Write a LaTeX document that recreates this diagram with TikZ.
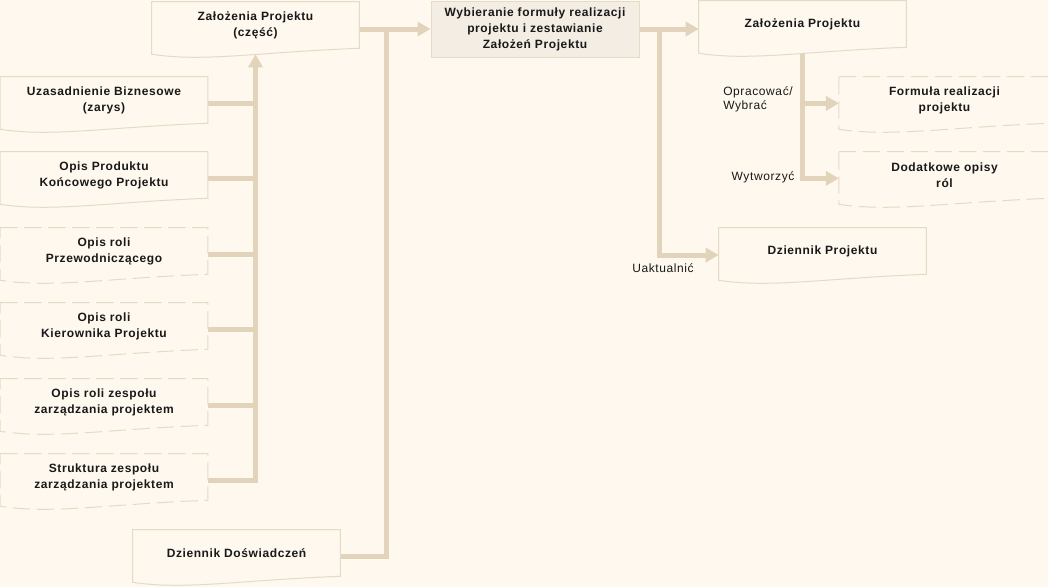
\documentclass[tikz,border=0pt]{standalone}
\usepackage{fontspec}
\setmainfont[LetterSpace=5]{Liberation Sans}
\usetikzlibrary{arrows.meta,calc}
\definecolor{pgbg}{RGB}{254,248,238}
\definecolor{pgedge}{RGB}{230,218,196}
\definecolor{pglink}{RGB}{226,212,186}
\definecolor{pgfill}{RGB}{243,237,227}
\definecolor{pgtext}{RGB}{25,25,25}
\tikzset{
  doc/.style={minimum width=155.25pt, minimum height=34.5pt, inner sep=0pt, align=center,
    font=\fontsize{9}{12}\selectfont\bfseries, text=pgtext},
  docline/.style={draw=pgedge, line width=0.75pt},
  docdash/.style={docline, dash pattern=on 13pt off 5pt},
  link/.style={draw=pglink, line width=3.75pt},
  tip/.style={-{Triangle[length=9.75pt,width=10.5pt]}},
  lbl/.style={font=\fontsize{9}{10.5}\selectfont, text=pgtext, inner sep=0pt},
}
\begin{document}
\begin{tikzpicture}[x=0.75pt,y=-0.75pt]
\fill[pgbg] (0,0) rectangle (1048,587);
\useasboundingbox (0,0) rectangle (1048,587);
% Left: inputs
\node[doc] (ub) at (104,100) {Uzasadnienie Biznesowe\\(zarys)};
\node[doc] (opk) at (104,175) {Opis Produktu\\Końcowego Projektu};
\node[doc] (przew) at (104,251) {Opis roli\\Przewodniczącego};
\node[doc] (kier) at (104,326) {Opis roli\\Kierownika Projektu};
\node[doc] (zesp) at (104,402) {Opis roli zespołu\\zarządzania projektem};
\node[doc] (struk) at (104,477) {Struktura zespołu\\zarządzania projektem};
\node[doc] (z1) at (255.5,25) {Założenia Projektu\\(część)};
\node[doc] (dd) at (236.5,553) {Dziennik Doświadczeń};
% Middle: process
\node[doc, minimum width=156pt, minimum height=42pt, fill=pgfill, draw=pgedge, line width=0.75pt] (wyb) at (535,29)
  {Wybieranie formuły realizacji\\projektu i zestawianie\\Założeń Projektu};
% Right: outputs
\node[doc] (z2) at (802.5,24) {Założenia Projektu};
\node[doc, minimum width=158pt] (form) at (944.5,100) {Formuła realizacji\\projektu};
\node[doc, minimum width=158pt] (dodat) at (944.5,175) {Dodatkowe opisy\\ról};
\node[doc] (dp) at (822.5,251) {Dziennik Projektu};
\coordinate (jz) at (386,29);
\coordinate (jr) at (659,29);
% Connectors
\foreach \n in {ub,opk,przew,kier,zesp}
  \draw[link] ([yshift=-2.5pt]\n.east) -- ([yshift=-2.5pt]\n.east -| z1.south);
\draw[link,tip] ([yshift=-2.5pt]struk.east) -| ($(z1.south)+(0,6)$);
\draw[link] ([yshift=-2.5pt]dd.east) -| (jz);
\draw[link,tip] (z1.east |- wyb.west) -- (wyb.west);
\draw[link,tip] (wyb.east) -- (z2.west |- wyb.east);
\draw[link,tip] (jr) |- ([yshift=-3pt]dp.west);
\draw[link,tip] ($(z2.south)+(0,6)$) |- ([yshift=-2.5pt]form.west);
\draw[link,tip] ($(z2.south)+(0,6)$) |- ([yshift=-2.5pt]dodat.west);
\node[lbl] (lupd) at (663,268) {Uaktualnić};
\node[lbl, anchor=west, align=left] (lopr) at (723,99) {Opracować/\\Wybrać};
\node[lbl] (lwyt) at (763,177) {Wytworzyć};
% Document outlines
\foreach \n in {ub,opk,z1,dd,z2,dp}
  \draw[docline] (\n.north west) -- (\n.north east) -- (\n.south east)
    .. controls ($(\n.south east)+(-103,4)$) and ($(\n.south west)+(52,14)$) .. ($(\n.south west)+(0,6)$) -- cycle;
\foreach \n in {przew,kier,zesp,struk,form,dodat}
  \draw[docdash] (\n.north west) -- (\n.north east) -- (\n.south east)
    .. controls ($(\n.south east)+(-103,4)$) and ($(\n.south west)+(52,14)$) .. ($(\n.south west)+(0,6)$) -- cycle;
\end{tikzpicture}
\end{document}
